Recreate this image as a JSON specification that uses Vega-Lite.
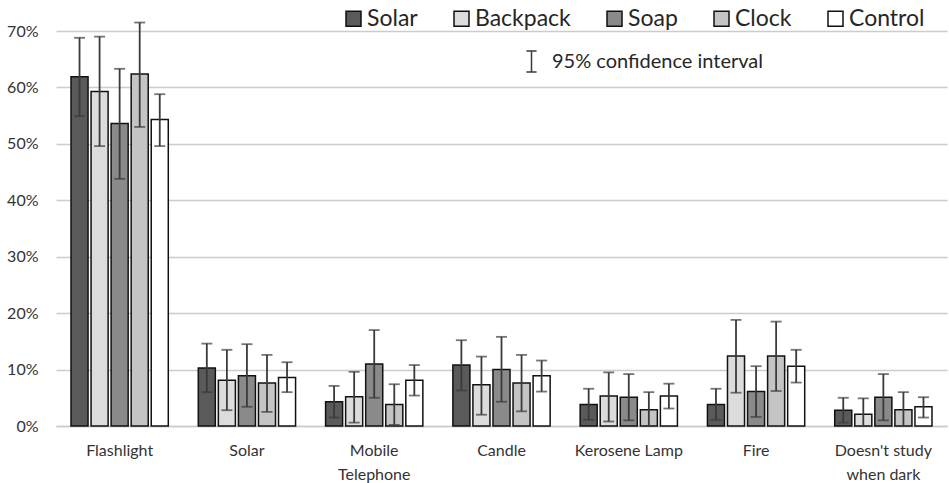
{
  "$schema": "https://vega.github.io/schema/vega-lite/v6.json",
  "width": 891,
  "height": 395,
  "autosize": "none",
  "padding": {"left": 56, "top": 31, "right": 2, "bottom": 57},
  "background": "white",
  "config": {
    "view": {"stroke": null},
    "font": "Lato",
    "axis": {"labelFont": "Lato", "labelColor": "#333333"},
    "legend": {"labelFont": "Lato", "labelColor": "#262626", "labelLimit": 400}
  },
  "data": {
    "values": [
      {"cat": "Flashlight", "grp": "Solar", "v": 0.619, "lo": 0.549, "hi": 0.688},
      {"cat": "Flashlight", "grp": "Backpack", "v": 0.593, "lo": 0.496, "hi": 0.690},
      {"cat": "Flashlight", "grp": "Soap", "v": 0.536, "lo": 0.438, "hi": 0.633},
      {"cat": "Flashlight", "grp": "Clock", "v": 0.624, "lo": 0.530, "hi": 0.715},
      {"cat": "Flashlight", "grp": "Control", "v": 0.543, "lo": 0.496, "hi": 0.588},
      {"cat": "Solar", "grp": "Solar", "v": 0.103, "lo": 0.060, "hi": 0.146},
      {"cat": "Solar", "grp": "Backpack", "v": 0.081, "lo": 0.028, "hi": 0.135},
      {"cat": "Solar", "grp": "Soap", "v": 0.089, "lo": 0.034, "hi": 0.145},
      {"cat": "Solar", "grp": "Clock", "v": 0.076, "lo": 0.025, "hi": 0.126},
      {"cat": "Solar", "grp": "Control", "v": 0.086, "lo": 0.060, "hi": 0.113},
      {"cat": "Mobile Telephone", "grp": "Solar", "v": 0.043, "lo": 0.015, "hi": 0.071},
      {"cat": "Mobile Telephone", "grp": "Backpack", "v": 0.052, "lo": 0.006, "hi": 0.096},
      {"cat": "Mobile Telephone", "grp": "Soap", "v": 0.110, "lo": 0.050, "hi": 0.170},
      {"cat": "Mobile Telephone", "grp": "Clock", "v": 0.038, "lo": 0.002, "hi": 0.074},
      {"cat": "Mobile Telephone", "grp": "Control", "v": 0.081, "lo": 0.054, "hi": 0.108},
      {"cat": "Candle", "grp": "Solar", "v": 0.108, "lo": 0.063, "hi": 0.152},
      {"cat": "Candle", "grp": "Backpack", "v": 0.073, "lo": 0.020, "hi": 0.123},
      {"cat": "Candle", "grp": "Soap", "v": 0.100, "lo": 0.043, "hi": 0.158},
      {"cat": "Candle", "grp": "Clock", "v": 0.076, "lo": 0.026, "hi": 0.126},
      {"cat": "Candle", "grp": "Control", "v": 0.089, "lo": 0.061, "hi": 0.116},
      {"cat": "Kerosene Lamp", "grp": "Solar", "v": 0.038, "lo": 0.011, "hi": 0.066},
      {"cat": "Kerosene Lamp", "grp": "Backpack", "v": 0.053, "lo": 0.008, "hi": 0.095},
      {"cat": "Kerosene Lamp", "grp": "Soap", "v": 0.051, "lo": 0.010, "hi": 0.092},
      {"cat": "Kerosene Lamp", "grp": "Clock", "v": 0.029, "lo": 0.000, "hi": 0.060},
      {"cat": "Kerosene Lamp", "grp": "Control", "v": 0.053, "lo": 0.031, "hi": 0.075},
      {"cat": "Fire", "grp": "Solar", "v": 0.038, "lo": 0.011, "hi": 0.066},
      {"cat": "Fire", "grp": "Backpack", "v": 0.124, "lo": 0.059, "hi": 0.188},
      {"cat": "Fire", "grp": "Soap", "v": 0.061, "lo": 0.016, "hi": 0.106},
      {"cat": "Fire", "grp": "Clock", "v": 0.124, "lo": 0.062, "hi": 0.185},
      {"cat": "Fire", "grp": "Control", "v": 0.106, "lo": 0.077, "hi": 0.135},
      {"cat": "Doesn't study when dark", "grp": "Solar", "v": 0.028, "lo": 0.006, "hi": 0.050},
      {"cat": "Doesn't study when dark", "grp": "Backpack", "v": 0.021, "lo": 0.000, "hi": 0.049},
      {"cat": "Doesn't study when dark", "grp": "Soap", "v": 0.051, "lo": 0.010, "hi": 0.092},
      {"cat": "Doesn't study when dark", "grp": "Clock", "v": 0.029, "lo": 0.000, "hi": 0.060},
      {"cat": "Doesn't study when dark", "grp": "Control", "v": 0.034, "lo": 0.015, "hi": 0.051}
    ]
  },
  "encoding": {
    "x": {
      "field": "cat",
      "type": "nominal",
      "sort": null,
      "scale": {"paddingInner": 0.22, "paddingOuter": 0.11},
      "axis": {
        "title": null,
        "labelAngle": 0,
        "labelFontSize": 16,
        "labelPadding": 24,
        "labelLineHeight": 24,
        "labelBaseline": "middle",
        "ticks": false,
        "domain": true,
        "domainColor": "#cccccc",
        "domainWidth": 1.5,
        "labelExpr": "split(replace(replace(datum.value, 'Mobile ', 'Mobile|'), 'study ', 'study|'), '|')"
      }
    },
    "xOffset": {
      "field": "grp",
      "type": "nominal",
      "sort": ["Solar", "Backpack", "Soap", "Clock", "Control"],
      "scale": {"paddingInner": 0.15, "paddingOuter": 0.05}
    }
  },
  "layer": [
    {
      "mark": {"type": "bar", "stroke": "#111111", "strokeWidth": 1.5},
      "encoding": {
        "y": {
          "field": "v",
          "type": "quantitative",
          "scale": {"domain": [0, 0.7], "nice": false},
          "axis": {
            "title": null,
            "format": "%",
            "values": [0, 0.1, 0.2, 0.3, 0.4, 0.5, 0.6, 0.7],
            "labelFontSize": 16,
            "labelPadding": 18,
            "ticks": false,
            "domain": false,
            "gridColor": "#cccccc",
            "gridWidth": 1.5
          }
        },
        "fill": {
          "field": "grp",
          "type": "nominal",
          "sort": ["Solar", "Backpack", "Soap", "Clock", "Control"],
          "scale": {
            "domain": ["Solar", "Backpack", "Soap", "Clock", "Control"],
            "range": ["#5a5a5a", "#dcdcdc", "#8a8a8a", "#c4c4c4", "#ffffff"]
          },
          "legend": {
            "title": null,
            "orient": "none",
            "legendX": 286,
            "legendY": -24,
            "direction": "horizontal",
            "columns": 5,
            "columnPadding": 32,
            "symbolType": "square",
            "symbolSize": 225,
            "symbolStrokeColor": "#111111",
            "symbolStrokeWidth": 1.5,
            "symbolOpacity": 1,
            "labelFontSize": 23,
            "labelOffset": 2
          }
        }
      }
    },
    {
      "mark": {"type": "rule", "strokeWidth": 1.8},
      "encoding": {
        "y": {"field": "lo", "type": "quantitative"},
        "y2": {"field": "hi"},
        "stroke": {
          "datum": "95% confidence interval",
          "scale": {"range": ["#3a3a3a"]},
          "legend": {
            "title": null,
            "orient": "none",
            "legendX": 464,
            "legendY": 19,
            "symbolType": "M0,-1L0,1M-0.48,-1L0.48,-1M-0.48,1L0.48,1",
            "symbolSize": 450,
            "symbolStrokeWidth": 1.5,
            "labelFontSize": 20,
            "labelOffset": 9
          }
        }
      }
    },
    {
      "mark": {"type": "tick", "color": "#3a3a3a", "size": 11, "thickness": 1.8},
      "encoding": {"y": {"field": "hi", "type": "quantitative"}}
    },
    {
      "mark": {"type": "tick", "color": "#3a3a3a", "size": 11, "thickness": 1.8},
      "encoding": {"y": {"field": "lo", "type": "quantitative"}}
    }
  ]
}
